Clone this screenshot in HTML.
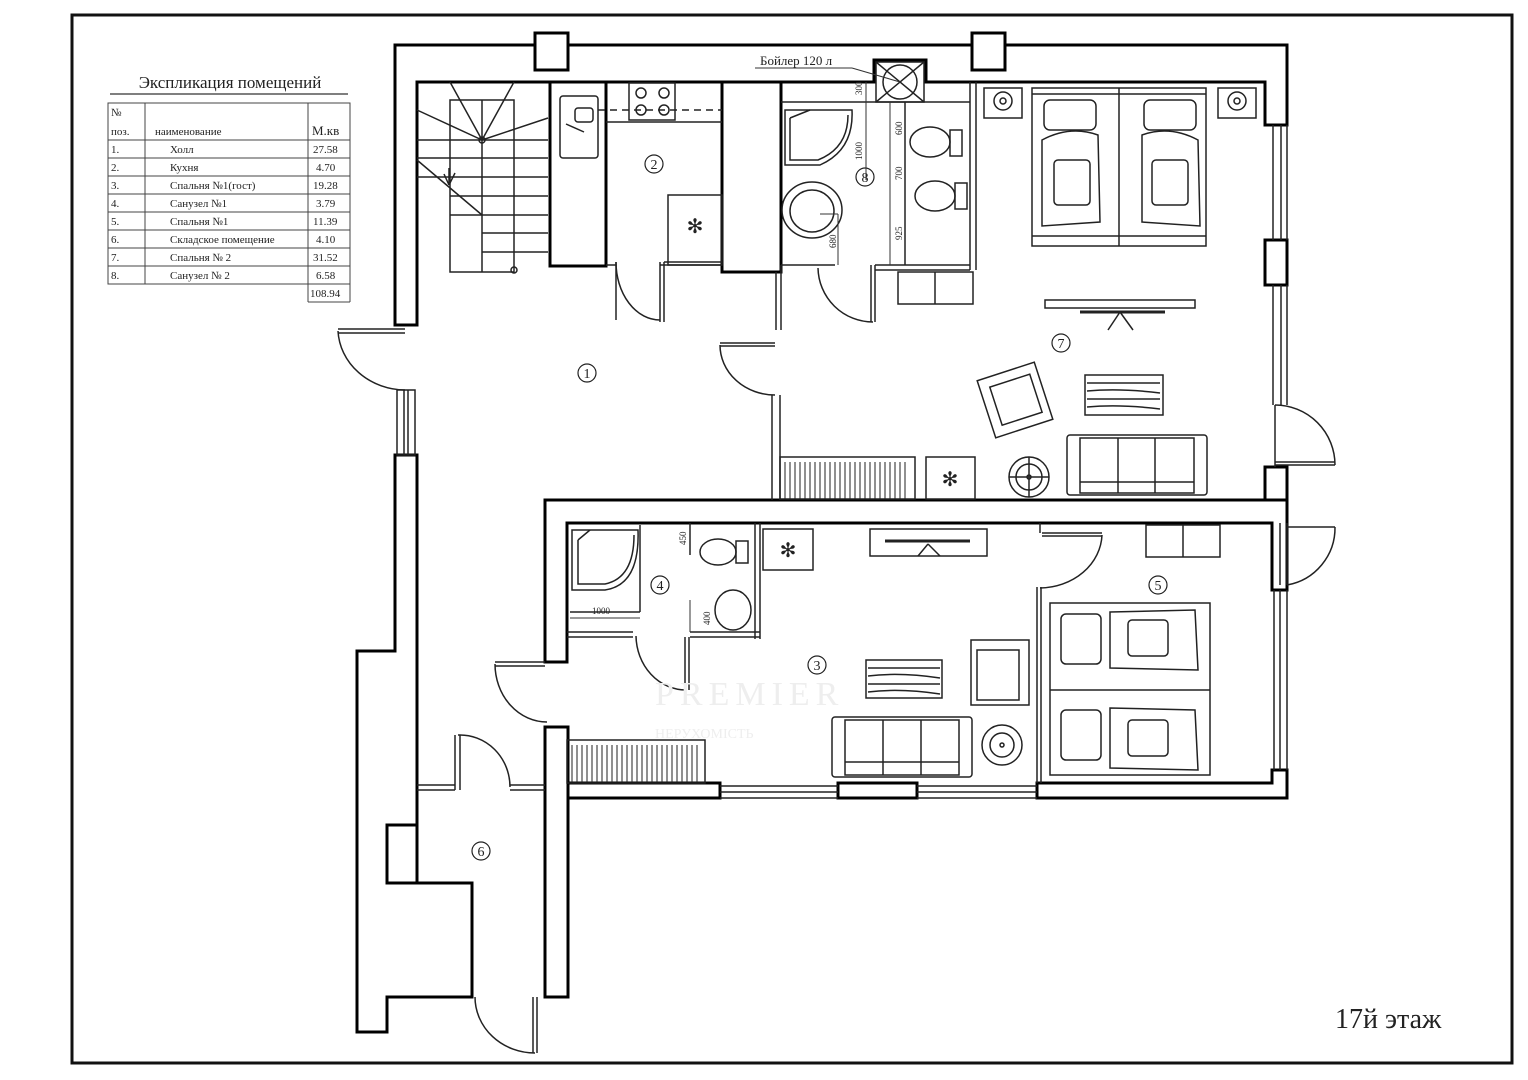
<!DOCTYPE html>
<html><head><meta charset="utf-8"><style>
html,body{margin:0;padding:0;background:#fff;}
svg{display:block;}
text{font-family:"Liberation Serif",serif;fill:#222;}
</style></head><body>
<svg width="1528" height="1080" viewBox="0 0 1528 1080" xmlns="http://www.w3.org/2000/svg">
<rect x="0" y="0" width="1528" height="1080" fill="#fff"/>
<rect x="72" y="15" width="1440" height="1048" fill="none" stroke="#111" stroke-width="3"/>

<text x="230" y="88" font-size="17" text-anchor="middle">Экспликация помещений</text>
<line x1="110" y1="94" x2="348" y2="94" stroke="#333" stroke-width="1.2"/>
<g stroke="#444" stroke-width="1" fill="none">
<rect x="108" y="103" width="242" height="181"/>
<line x1="145" y1="103" x2="145" y2="284"/>
<line x1="308" y1="103" x2="308" y2="302"/>
<line x1="350" y1="284" x2="350" y2="302"/>
<line x1="308" y1="302" x2="350" y2="302"/>
<line x1="108" y1="140" x2="350" y2="140"/>
<line x1="108" y1="158" x2="350" y2="158"/>
<line x1="108" y1="176" x2="350" y2="176"/>
<line x1="108" y1="194" x2="350" y2="194"/>
<line x1="108" y1="212" x2="350" y2="212"/>
<line x1="108" y1="230" x2="350" y2="230"/>
<line x1="108" y1="248" x2="350" y2="248"/>
<line x1="108" y1="266" x2="350" y2="266"/>
</g>
<g font-size="11">
<text x="111" y="116">№</text><text x="111" y="135">поз.</text>
<text x="155" y="135">наименование</text>
<text x="312" y="135" font-size="13">М.кв</text>
<text x="111" y="153">1.</text><text x="170" y="153">Холл</text><text x="313" y="153">27.58</text>
<text x="111" y="171">2.</text><text x="170" y="171">Кухня</text><text x="316" y="171">4.70</text>
<text x="111" y="189">3.</text><text x="170" y="189">Спальня №1(гост)</text><text x="313" y="189">19.28</text>
<text x="111" y="207">4.</text><text x="170" y="207">Санузел №1</text><text x="316" y="207">3.79</text>
<text x="111" y="225">5.</text><text x="170" y="225">Спальня №1</text><text x="313" y="225">11.39</text>
<text x="111" y="243">6.</text><text x="170" y="243">Складское помещение</text><text x="316" y="243">4.10</text>
<text x="111" y="261">7.</text><text x="170" y="261">Спальня № 2</text><text x="313" y="261">31.52</text>
<text x="111" y="279">8.</text><text x="170" y="279">Санузел № 2</text><text x="316" y="279">6.58</text>
<text x="310" y="297">108.94</text>
</g>

<g fill="#fff" stroke="#000" stroke-width="3" stroke-linejoin="miter">
<path d="M395,325 L395,45 L1287,45 L1287,125 L1265,125 L1265,82 L926,82 L926,60 L874,60 L874,82 L417,82 L417,325 Z"/>
<rect x="535" y="33" width="33" height="37"/>
<rect x="972" y="33" width="33" height="37"/>
<rect x="1265" y="240" width="22" height="45"/>
<rect x="1265" y="467" width="22" height="33"/>
<path d="M545,662 L545,500 L1287,500 L1287,590 L1272,590 L1272,523 L567,523 L567,662 Z"/>
<rect x="567" y="783" width="153" height="15"/>
<rect x="838" y="783" width="79" height="15"/>
<path d="M1037,798 L1287,798 L1287,770 L1272,770 L1272,783 L1037,783 Z"/>
<rect x="545" y="727" width="23" height="270"/>
<path d="M395,455 L417,455 L417,883 L472,883 L472,997 L387,997 L387,1032 L357,1032 L357,651 L395,651 Z"/>
<rect x="387" y="825" width="30" height="58"/>
<rect x="550" y="82" width="56" height="184"/>
<rect x="722" y="82" width="59" height="190"/>
</g>
<g fill="none" stroke="#222" stroke-width="1.5">
<rect x="876" y="62" width="48" height="40"/>
<circle cx="900" cy="82" r="17"/>
<line x1="876" y1="62" x2="924" y2="102"/><line x1="924" y1="62" x2="876" y2="102"/>
<line x1="1273" y1="125" x2="1273" y2="240"/><line x1="1281" y1="125" x2="1281" y2="240"/><line x1="1287" y1="125" x2="1287" y2="240"/>
<line x1="1273" y1="285" x2="1273" y2="405"/><line x1="1281" y1="285" x2="1281" y2="405"/><line x1="1287" y1="285" x2="1287" y2="405"/>
<line x1="1275" y1="405" x2="1275" y2="467"/>
<line x1="1275" y1="465" x2="1335" y2="465"/><line x1="1275" y1="462" x2="1335" y2="462"/>
<path d="M1275,405 A60,60 0 0 1 1335,465"/>
<line x1="1274" y1="590" x2="1274" y2="770"/><line x1="1280" y1="590" x2="1280" y2="770"/><line x1="1287" y1="590" x2="1287" y2="770"/>
<line x1="1280" y1="523" x2="1280" y2="585"/><line x1="1287" y1="523" x2="1287" y2="585"/>
<path d="M1287,585 A58,58 0 0 0 1335,527"/><line x1="1287" y1="527" x2="1335" y2="527"/>
<line x1="720" y1="786" x2="838" y2="786"/><line x1="720" y1="792" x2="838" y2="792"/><line x1="720" y1="798" x2="838" y2="798"/>
<line x1="917" y1="786" x2="1037" y2="786"/><line x1="917" y1="792" x2="1037" y2="792"/><line x1="917" y1="798" x2="1037" y2="798"/>
<rect x="397" y="390" width="18" height="65"/><line x1="404" y1="390" x2="404" y2="455"/><line x1="408" y1="390" x2="408" y2="455"/>
<line x1="338" y1="329" x2="405" y2="329"/><line x1="338" y1="333" x2="405" y2="333"/>
<path d="M338,331 A68,62 0 0 0 405,390"/>
<rect x="450" y="100" width="64" height="172"/>
<line x1="417" y1="140" x2="548" y2="140"/>
<line x1="417" y1="158" x2="548" y2="158"/>
<line x1="417" y1="177" x2="548" y2="177"/>
<line x1="450" y1="196" x2="548" y2="196"/>
<line x1="450" y1="215" x2="548" y2="215"/>
<line x1="482" y1="233" x2="548" y2="233"/>
<line x1="482" y1="252" x2="548" y2="252"/>
<line x1="482" y1="100" x2="482" y2="272"/>
<line x1="482" y1="140" x2="450" y2="82"/><line x1="482" y1="140" x2="514" y2="82"/>
<line x1="482" y1="140" x2="417" y2="110"/><line x1="482" y1="140" x2="548" y2="118"/>
<line x1="417" y1="160" x2="482" y2="215"/>
<line x1="449" y1="168" x2="449" y2="185"/><line x1="449" y1="185" x2="444" y2="174"/><line x1="449" y1="185" x2="455" y2="173"/>
<circle cx="482" cy="140" r="3"/><circle cx="514" cy="270" r="3"/>
<rect x="560" y="96" width="38" height="62" rx="3"/>
<rect x="575" y="108" width="18" height="14" rx="3"/>
<line x1="566" y1="124" x2="584" y2="132"/>
<rect x="629" y="83" width="46" height="37"/>
<circle cx="641" cy="93" r="5"/><circle cx="664" cy="93" r="5"/><circle cx="641" cy="110" r="5"/><circle cx="664" cy="110" r="5"/>
<line x1="606" y1="122" x2="722" y2="122"/>
<line x1="598" y1="110" x2="722" y2="110" stroke-dasharray="7,5"/>
<rect x="668" y="195" width="54" height="70"/>
<line x1="606" y1="265" x2="616" y2="265"/>
<line x1="660" y1="265" x2="722" y2="265"/><line x1="664" y1="262" x2="722" y2="262"/>
<line x1="616" y1="262" x2="616" y2="320"/><line x1="660" y1="262" x2="660" y2="322"/><line x1="664" y1="262" x2="664" y2="322"/>
<path d="M616,262 A44,58 0 0 0 660,320"/>
<line x1="781" y1="265" x2="835" y2="265"/><line x1="875" y1="265" x2="970" y2="265"/><line x1="875" y1="270" x2="970" y2="270"/>
<line x1="875" y1="265" x2="875" y2="322"/><line x1="871" y1="265" x2="871" y2="322"/>
<path d="M818,268 A55,55 0 0 0 873,322"/>
<line x1="970" y1="82" x2="970" y2="270"/><line x1="976" y1="82" x2="976" y2="270"/>
<line x1="905" y1="102" x2="905" y2="265"/>
<line x1="781" y1="102" x2="970" y2="102"/>
<path d="M785,110 L852,110 Q854,150 820,165 L785,165 Z"/>
<path d="M790,118 L810,110 M790,118 L790,160 L818,160 Q848,148 848,115"/>
<ellipse cx="812" cy="210" rx="30" ry="28"/>
<ellipse cx="812" cy="211" rx="22" ry="21"/>
<ellipse cx="930" cy="142" rx="20" ry="15"/><rect x="950" y="130" width="12" height="26"/>
<ellipse cx="935" cy="196" rx="20" ry="15"/><rect x="955" y="183" width="12" height="26"/>
<line x1="781" y1="265" x2="781" y2="330"/><line x1="776" y1="272" x2="776" y2="330"/>
<rect x="898" y="272" width="75" height="32"/><line x1="935" y1="272" x2="935" y2="304"/>
<line x1="772" y1="395" x2="772" y2="500"/><line x1="780" y1="395" x2="780" y2="500"/>
<line x1="720" y1="343" x2="775" y2="343"/><line x1="720" y1="346" x2="775" y2="346"/>
<path d="M720,345 A55,50 0 0 0 775,395"/>
<rect x="780" y="457" width="135" height="42"/>
<rect x="926" y="457" width="49" height="42"/>
<rect x="1032" y="88" width="174" height="158"/>
<line x1="1119" y1="88" x2="1119" y2="246"/>
<line x1="1032" y1="94" x2="1206" y2="94"/><line x1="1032" y1="236" x2="1206" y2="236"/>
<rect x="1044" y="100" width="52" height="30" rx="6"/><rect x="1144" y="100" width="52" height="30" rx="6"/>
<path d="M1042,140 Q1070,125 1098,135 L1100,222 L1042,226 Z"/>
<path d="M1142,135 Q1170,125 1198,140 L1200,226 L1142,222 Z"/>
<rect x="1054" y="160" width="36" height="45" rx="4"/><rect x="1152" y="160" width="36" height="45" rx="4"/>
<rect x="984" y="88" width="38" height="30"/><circle cx="1003" cy="101" r="9"/><circle cx="1003" cy="101" r="3"/>
<rect x="1218" y="88" width="38" height="30"/><circle cx="1237" cy="101" r="9"/><circle cx="1237" cy="101" r="3"/>
<rect x="1045" y="300" width="150" height="8"/>
<line x1="1080" y1="312" x2="1165" y2="312" stroke-width="3"/>
<line x1="1120" y1="312" x2="1108" y2="330"/><line x1="1120" y1="312" x2="1133" y2="330"/>
<g transform="rotate(-18 1015 400)"><rect x="985" y="370" width="60" height="60"/><rect x="995" y="380" width="42" height="40"/></g>
<rect x="1085" y="375" width="78" height="40"/>
<path d="M1087,383 H1160 M1087,391 Q1120,388 1160,393 M1087,399 H1160 M1087,407 Q1120,404 1160,409"/>
<rect x="1067" y="435" width="140" height="60" rx="3"/>
<rect x="1080" y="438" width="114" height="55"/>
<line x1="1118" y1="438" x2="1118" y2="493"/><line x1="1155" y1="438" x2="1155" y2="493"/>
<line x1="1080" y1="482" x2="1194" y2="482"/>
<circle cx="1029" cy="477" r="20"/><circle cx="1029" cy="477" r="13"/><circle cx="1029" cy="477" r="2"/>
<line x1="1009" y1="477" x2="1049" y2="477"/><line x1="1029" y1="457" x2="1029" y2="497"/>
<line x1="755" y1="523" x2="755" y2="639"/><line x1="760" y1="523" x2="760" y2="639"/>
<line x1="567" y1="632" x2="633" y2="632"/><line x1="567" y1="637" x2="633" y2="637"/>
<line x1="690" y1="632" x2="760" y2="632"/><line x1="690" y1="637" x2="760" y2="637"/>
<line x1="685" y1="637" x2="685" y2="690"/><line x1="689" y1="637" x2="689" y2="690"/>
<path d="M636,636 A50,55 0 0 0 686,690"/>
<path d="M572,530 L638,530 Q640,585 605,590 L572,590 Z"/>
<path d="M578,540 L590,530 M578,540 L578,584 L605,584 Q634,578 634,535"/>
<line x1="570" y1="612" x2="640" y2="612"/><line x1="640" y1="525" x2="640" y2="612"/>
<ellipse cx="718" cy="552" rx="18" ry="13"/><rect x="736" y="541" width="12" height="22"/>
<ellipse cx="733" cy="610" rx="18" ry="20"/>
<line x1="690" y1="523" x2="690" y2="555"/>
<line x1="495" y1="662" x2="545" y2="662"/><line x1="495" y1="666" x2="545" y2="666"/>
<path d="M495,664 A52,58 0 0 0 547,722"/>
<rect x="763" y="529" width="50" height="41"/>
<rect x="870" y="529" width="117" height="27"/>
<line x1="885" y1="541" x2="970" y2="541" stroke-width="3"/>
<line x1="928" y1="544" x2="918" y2="556"/><line x1="928" y1="544" x2="940" y2="556"/>
<rect x="866" y="660" width="76" height="38"/>
<path d="M868,668 H940 M868,676 Q900,672 940,678 M868,684 H940 M868,692 Q900,688 940,694"/>
<rect x="971" y="640" width="58" height="65"/><rect x="977" y="650" width="42" height="50"/>
<rect x="832" y="717" width="140" height="60" rx="3"/>
<rect x="845" y="720" width="114" height="55"/>
<line x1="883" y1="720" x2="883" y2="775"/><line x1="921" y1="720" x2="921" y2="775"/>
<line x1="845" y1="762" x2="959" y2="762"/>
<circle cx="1002" cy="745" r="20"/><circle cx="1002" cy="745" r="12"/><circle cx="1002" cy="745" r="2"/>
<line x1="1037" y1="587" x2="1037" y2="783"/><line x1="1041" y1="587" x2="1041" y2="783"/>
<line x1="1040" y1="523" x2="1040" y2="533"/>
<line x1="1042" y1="533" x2="1102" y2="533"/><line x1="1042" y1="536" x2="1102" y2="536"/>
<path d="M1102,535 A63,55 0 0 1 1040,588"/>
<rect x="1146" y="525" width="74" height="32"/><line x1="1183" y1="525" x2="1183" y2="557"/>
<rect x="1050" y="603" width="160" height="172"/>
<line x1="1050" y1="690" x2="1210" y2="690"/>
<rect x="1061" y="614" width="40" height="50" rx="5"/><rect x="1061" y="710" width="40" height="50" rx="5"/>
<path d="M1110,612 L1195,610 L1198,670 L1110,668 Z"/><path d="M1110,708 L1195,710 L1198,770 L1110,768 Z"/>
<rect x="1128" y="620" width="40" height="36" rx="4"/><rect x="1128" y="720" width="40" height="36" rx="4"/>
<rect x="567" y="740" width="138" height="43"/>
<line x1="417" y1="785" x2="455" y2="785"/><line x1="417" y1="790" x2="455" y2="790"/>
<line x1="510" y1="785" x2="545" y2="785"/><line x1="510" y1="790" x2="545" y2="790"/>
<line x1="455" y1="735" x2="455" y2="790"/><line x1="460" y1="735" x2="460" y2="790"/>
<path d="M458,735 A50,52 0 0 1 510,787"/>
<line x1="537" y1="997" x2="537" y2="1053"/><line x1="533" y1="997" x2="533" y2="1053"/>
<path d="M475,997 A60,56 0 0 0 535,1053"/>
</g>
<g stroke="#222" stroke-width="1">
<path d="M785,462 V499 M790,462 V499 M795,462 V499 M800,462 V499 M805,462 V499 M810,462 V499 M815,462 V499 M820,462 V499 M825,462 V499 M830,462 V499 M835,462 V499 M840,462 V499 M845,462 V499 M850,462 V499 M855,462 V499 M860,462 V499 M865,462 V499 M870,462 V499 M875,462 V499 M880,462 V499 M885,462 V499 M890,462 V499 M895,462 V499 M900,462 V499 M905,462 V499"/>
<path d="M572,745 V782 M577,745 V782 M582,745 V782 M587,745 V782 M592,745 V782 M597,745 V782 M602,745 V782 M607,745 V782 M612,745 V782 M617,745 V782 M622,745 V782 M627,745 V782 M632,745 V782 M637,745 V782 M642,745 V782 M647,745 V782 M652,745 V782 M657,745 V782 M662,745 V782 M667,745 V782 M672,745 V782 M677,745 V782 M682,745 V782 M687,745 V782 M692,745 V782 M697,745 V782"/>
</g>
<g font-size="20" text-anchor="middle" font-family="DejaVu Sans"><text x="695" y="233">✻</text><text x="950" y="486">✻</text><text x="788" y="557">✻</text></g>
<g fill="none" stroke="#222" stroke-width="1.2">
<circle cx="587" cy="373" r="9"/><circle cx="654" cy="164" r="9"/><circle cx="817" cy="665" r="9"/><circle cx="660" cy="585" r="9"/>
<circle cx="1158" cy="585" r="9"/><circle cx="481" cy="851" r="9"/><circle cx="1061" cy="343" r="9"/><circle cx="865" cy="177" r="9"/>
</g>
<g font-size="14" text-anchor="middle">
<text x="587" y="378">1</text><text x="654" y="169">2</text><text x="817" y="670">3</text><text x="660" y="590">4</text>
<text x="1158" y="590">5</text><text x="481" y="856">6</text><text x="1061" y="348">7</text><text x="865" y="182">8</text>
</g>
<g stroke="#333" stroke-width="1" fill="none">
<line x1="866" y1="82" x2="866" y2="180"/><line x1="890" y1="102" x2="890" y2="265"/>
<line x1="820" y1="214" x2="838" y2="214"/><line x1="838" y1="214" x2="838" y2="265"/>
<line x1="570" y1="618" x2="640" y2="618"/><line x1="690" y1="600" x2="690" y2="632"/>
<line x1="755" y1="68" x2="852" y2="68"/><line x1="852" y1="68" x2="900" y2="82"/>
</g>
<g font-size="9">
<text transform="translate(862,95) rotate(-90)">300</text>
<text transform="translate(862,160) rotate(-90)">1000</text>
<text transform="translate(902,135) rotate(-90)">600</text>
<text transform="translate(902,180) rotate(-90)">700</text>
<text transform="translate(902,240) rotate(-90)">925</text>
<text transform="translate(836,248) rotate(-90)">680</text>
<text transform="translate(686,545) rotate(-90)">450</text>
<text transform="translate(710,625) rotate(-90)">400</text>
<text x="592" y="614">1000</text>
</g>
<text x="760" y="65" font-size="13">Бойлер 120 л</text>
<text x="655" y="705" font-size="34" style="fill:#eeeeee" letter-spacing="6">PREMIER</text>
<text x="655" y="738" font-size="14" style="fill:#eeeeee">НЕРУХОМІСТЬ</text>
<text x="1335" y="1028" font-size="28">17й этаж</text>
</svg>
</body></html>
